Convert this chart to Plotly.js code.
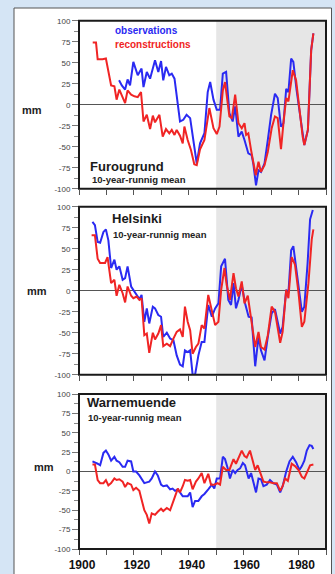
<!DOCTYPE html>
<html><head><meta charset="utf-8">
<script src="https://cdn.plot.ly/plotly-3.0.1.min.js"></script>
<style>html,body{margin:0;padding:0;background:#d5e5f5;}#chart{width:335px;height:574px;}</style>
</head><body><div id="chart"></div>
<script>
// ---- data (years, mm) ----
var furRecYears = [1905.0,1906.2,1906.8,1908.6,1909.8,1910.4,1911.7,1912.9,1913.7,1914.7,1915.9,1916.8,1917.7,1919.0,1920.2,1921.4,1922.6,1923.5,1924.7,1925.9,1926.9,1927.7,1929.3,1930.5,1931.7,1932.9,1933.8,1934.8,1935.6,1936.8,1937.8,1938.4,1939.6,1940.8,1942.0,1942.9,1944.1,1945.7,1947.5,1949.0,1950.2,1951.2,1952.4,1953.2,1954.8,1955.7,1956.9,1958.1,1959.3,1960.3,1960.9,1961.7,1962.7,1963.5,1964.4,1965.4,1966.3,1967.6,1968.8,1970.2,1971.4,1972.4,1973.6,1974.5,1975.5,1976.3,1977.9,1979.1,1980.3,1981.5,1982.1,1983.4,1984.6,1985.4];
var furRec = [74,74,54,54,55,45,23,22,6,18,10,2,17,12,10,9,15,-20,-12,-29,-13,-21,-12,-38,-29,-34,-30,-36,-30,-37,-46,-26,-42,-54,-71,-72,-53,-42,-4,-28,-35,-26,17,27,-14,-16,12,-22,-28,-22,-36,-34,-54,-70,-84,-68,-80,-72,-56,-28,-14,-16,-53,-22,8,4,41,29,-6,-38,-48,-30,65,85];
var furObsYears = [1914.6,1915.6,1916.8,1917.7,1918.6,1919.8,1921.4,1922.8,1923.5,1924.7,1925.9,1926.9,1927.7,1928.9,1929.9,1930.7,1931.7,1932.9,1933.8,1934.8,1936.0,1936.8,1938.0,1939.2,1940.5,1941.7,1942.9,1944.1,1945.7,1946.9,1947.8,1949.0,1950.2,1951.4,1952.4,1953.6,1954.8,1956.0,1956.9,1958.1,1959.3,1960.3,1961.7,1962.9,1963.5,1964.5,1965.4,1966.3,1967.6,1968.8,1970.0,1971.4,1972.4,1973.6,1974.5,1975.5,1976.3,1977.3,1978.1,1979.3,1980.3,1981.5,1982.1,1983.4,1984.6,1985.4];
var furObs = [29,23,18,30,23,51,35,43,21,39,31,43,53,39,52,29,45,35,37,31,2,-20,-18,-12,-16,-42,-70,-46,-34,15,27,6,-6,-6,37,39,-10,-20,-2,-38,-32,-42,-58,-60,-70,-96,-78,-80,-70,-42,-12,13,8,-26,-22,19,15,55,51,17,-6,-38,-48,-30,65,85];

var helRecYears = [1904.6,1905.8,1906.8,1907.7,1909.5,1910.4,1911.7,1912.9,1913.7,1914.7,1915.9,1916.8,1917.7,1919.0,1919.8,1921.0,1922.0,1922.8,1923.8,1924.7,1925.6,1926.9,1927.7,1928.9,1929.9,1930.7,1932.0,1933.2,1934.4,1935.6,1936.8,1937.8,1938.6,1939.6,1940.5,1941.4,1942.6,1943.5,1944.7,1945.7,1947.1,1948.4,1949.6,1950.8,1951.8,1953.0,1953.8,1955.0,1956.3,1957.2,1958.1,1959.3,1960.3,1961.5,1962.9,1964.2,1965.4,1966.3,1967.6,1968.8,1970.2,1971.4,1973.3,1974.2,1975.5,1976.3,1977.5,1978.7,1980.0,1981.2,1982.1,1983.6,1984.8,1985.4];
var helRec = [66,66,38,33,33,40,9,13,-6,7,-3,-14,5,-6,-9,-7,-11,-9,-53,-51,-74,-50,-58,-51,-41,-66,-63,-66,-57,-49,-46,-55,-19,-37,-47,-75,-67,-63,-41,-45,-5,-25,-41,-37,1,27,7,-11,21,3,-7,11,-15,-6,-39,-67,-49,-67,-70,-53,-19,-25,-62,-49,1,-9,40,31,-3,-43,-37,9,61,73];
var helObsYears = [1904.9,1905.8,1906.8,1907.7,1908.9,1909.8,1910.7,1911.7,1912.9,1913.7,1914.7,1915.9,1916.8,1917.7,1919.0,1919.8,1921.0,1922.0,1922.8,1923.8,1924.7,1925.6,1926.9,1927.7,1928.9,1929.9,1930.7,1932.0,1933.2,1934.4,1935.6,1936.8,1937.8,1938.6,1939.6,1940.5,1941.4,1942.3,1943.5,1944.7,1945.7,1947.1,1948.4,1949.6,1950.8,1951.8,1953.2,1954.4,1955.4,1956.3,1957.2,1958.1,1959.3,1960.5,1961.8,1962.9,1964.2,1965.4,1966.3,1967.6,1968.8,1970.2,1971.4,1973.3,1974.2,1975.5,1976.3,1977.3,1978.1,1979.3,1980.6,1981.2,1982.1,1983.3,1984.2,1985.2];
var helObs = [82,78,58,57,70,73,60,27,37,25,29,13,15,29,5,1,-6,-10,-5,-37,-21,-39,-19,-21,-29,-31,-55,-50,-57,-59,-77,-88,-90,-71,-73,-71,-100,-100,-77,-61,-61,-17,-31,-21,-15,29,38,-11,-17,9,-21,-11,7,-15,-31,-32,-90,-55,-71,-83,-55,-27,-22,-51,-43,1,-3,48,53,25,-11,-25,-19,33,85,96];

var warRecYears = [1904.9,1905.8,1906.8,1907.7,1908.9,1909.8,1910.7,1911.7,1912.9,1913.7,1914.7,1915.9,1916.8,1917.7,1919.0,1919.8,1920.8,1922.0,1922.8,1923.8,1924.7,1925.6,1926.5,1927.7,1928.7,1929.9,1930.7,1932.0,1933.2,1934.1,1935.0,1936.0,1936.8,1937.8,1938.6,1939.6,1940.5,1941.4,1942.6,1943.5,1944.7,1945.7,1947.1,1948.1,1949.3,1950.5,1951.4,1952.4,1953.6,1954.8,1956.3,1957.2,1958.1,1959.3,1960.3,1961.1,1962.3,1963.3,1964.2,1965.1,1966.0,1967.2,1968.4,1969.6,1970.8,1972.1,1973.3,1974.2,1975.1,1976.1,1977.5,1978.7,1980.0,1981.2,1982.1,1983.0,1984.2,1985.4];
var warRec = [9,9,-11,-15,-15,-11,-18,-15,-9,-11,-10,-13,-20,-15,-17,-24,-21,-25,-36,-50,-56,-67,-54,-56,-52,-48,-51,-47,-50,-42,-32,-22,-27,-19,-11,-12,-11,-23,-13,-9,-2,-15,-3,-17,-17,-15,-17,6,2,2,16,10,18,27,20,18,27,14,2,8,-2,-13,-14,-14,-15,-15,-25,-19,-9,-12,10,7,2,-7,-9,-2,8,9];
var warObsYears = [1904.9,1905.8,1906.8,1907.7,1908.9,1909.8,1910.7,1911.7,1912.9,1913.7,1914.7,1915.9,1916.8,1917.7,1919.0,1919.8,1920.8,1922.0,1922.8,1923.8,1924.7,1925.6,1926.5,1927.7,1928.7,1929.9,1930.7,1932.0,1933.2,1934.1,1935.0,1936.0,1936.8,1937.8,1938.6,1939.6,1940.5,1941.4,1942.3,1943.5,1944.7,1945.7,1947.1,1948.4,1949.3,1950.2,1951.4,1952.4,1953.2,1954.2,1955.0,1956.0,1956.9,1957.8,1958.7,1959.7,1960.5,1961.8,1962.7,1963.5,1964.5,1965.4,1966.3,1967.2,1968.4,1969.6,1970.8,1972.1,1973.3,1974.2,1975.5,1976.7,1977.9,1979.1,1980.3,1981.2,1982.1,1983.0,1984.0,1984.8,1985.4];
var warObs = [13,12,10,8,24,27,22,14,19,14,12,6,6,14,13,0,0,-5,-9,-15,-14,-13,-9,0,-5,-17,-19,-18,-23,-22,-25,-23,-27,-32,-32,-32,-27,-46,-38,-38,-32,-29,-23,-17,-22,-9,-9,19,16,4,-9,2,-2,2,4,11,8,-9,-2,-15,-27,-9,-10,-19,-17,-11,-15,-17,-27,-19,0,13,19,12,2,7,14,27,34,33,29];

var stationNames = ['Furougrund','Helsinki','Warnemuende'];
var subtitleText = '10-year-runnig mean';
var seriesNames = ['observations','reconstructions'];
var yTickVals = [-100,-75,-50,-25,0,25,50,75,100];
var yTickText = ['-100','-75','-50','-25','0','25','50','75','100'];
var xTickVals = [1900,1910,1920,1930,1940,1950,1960,1970,1980,1990];
var xTickText = ['1900','','1920','','1940','','1960','','1980',''];
var shadeStart = 1950, shadeEnd = 1990;

// ---- layout helpers (pixel -> paper) ----
var W = 335, H = 574, MB = 25, PH = H - MB;
function px(x){ return x / W; }
function py(y){ return (PH - y) / PH; }

var BLUE = '#2a2af2', RED = '#f02424';
var FONT = 'Liberation Sans, Arial, sans-serif';

var panels = [
  {obsX: furObsYears, obs: furObs, recX: furRecYears, rec: furRec, top: 20.7, bot: 188.7},
  {obsX: helObsYears, obs: helObs, recX: helRecYears, rec: helRec, top: 206.7, bot: 374.7},
  {obsX: warObsYears, obs: warObs, recX: warRecYears, rec: warRec, top: 394, bot: 549}
];

var traces = [];
var layout = {
  width: W, height: H,
  margin: {l: 0, r: 0, t: 0, b: MB, pad: 0},
  paper_bgcolor: '#d5e5f5',
  plot_bgcolor: 'white',
  showlegend: false,
  font: {family: FONT, color: '#333'},
  shapes: [
    {type: 'rect', xref: 'paper', yref: 'paper', x0: px(14), x1: px(331.5), y0: py(600), y1: py(8),
     fillcolor: 'white', line: {color: '#555', width: 1}, layer: 'below'}
  ],
  annotations: []
};

panels.forEach(function(p, i){
  var n = i === 0 ? '' : String(i + 1);
  var xa = 'x' + n, ya = 'y' + n;
  traces.push({x: p.obsX, y: p.obs, xaxis: xa, yaxis: ya, type: 'scatter', mode: 'lines',
               name: seriesNames[0], line: {color: BLUE, width: 2}});
  traces.push({x: p.recX, y: p.rec, xaxis: xa, yaxis: ya, type: 'scatter', mode: 'lines',
               name: seriesNames[1], line: {color: RED, width: 2}});
  layout['xaxis' + n] = {
    domain: [px(79), px(326)], range: [1900, 1990], anchor: ya,
    showgrid: false, zeroline: false, showline: false,
    ticks: 'outside', ticklen: 5, tickwidth: 1, tickcolor: '#555',
    tickmode: 'array', tickvals: xTickVals, ticktext: xTickText,
    showticklabels: i === 2, ticklabelshift: 3, ticklabelstandoff: 0,
    tickfont: {family: FONT, size: 12, color: '#111', weight: 'bold'}
  };
  layout['yaxis' + n] = {
    domain: [py(p.bot), py(p.top)], range: [-100, 100], anchor: xa,
    showgrid: false, zeroline: true, zerolinecolor: '#555', zerolinewidth: 1,
    showline: true, linecolor: '#777', linewidth: 1,
    ticks: 'outside', ticklen: 6, tickwidth: 1, tickcolor: '#777',
    tickmode: 'array', tickvals: yTickVals, ticktext: yTickText,
    minor: {dtick: 12.5, ticks: 'outside', ticklen: 4, tickcolor: '#888', showgrid: false},
    tickfont: {family: FONT, size: 8, color: '#444'}
  };
  layout.shapes.push({type: 'rect', xref: xa, yref: ya + ' domain', x0: shadeStart, x1: shadeEnd, y0: 0, y1: 1,
                      fillcolor: '#e6e6e6', line: {width: 0}, layer: 'below'});
  layout.shapes.push({type: 'rect', xref: xa + ' domain', yref: ya + ' domain', x0: 0, x1: 1, y0: 0, y1: 1,
                      fillcolor: 'rgba(0,0,0,0)', line: {color: '#1a1a1a', width: 2}, layer: 'above'});
});

function ann(text, x, y, size, color, bold, xanchor){
  layout.annotations.push({text: text, xref: 'paper', yref: 'paper', x: px(x), y: py(y),
    xanchor: xanchor || 'left', yanchor: 'middle', showarrow: false,
    font: {family: FONT, size: size, color: color, weight: bold ? 'bold' : 'normal'}});
}
// legend-like labels
ann(seriesNames[0], 113, 31, 10, BLUE, true);
ann(seriesNames[1], 113, 44, 10, RED, true);
// station titles
ann(stationNames[0], 88, 166, 13, '#1a1a1a', true);
ann(subtitleText, 90, 179, 9.5, '#222', true);
ann(stationNames[1], 110, 218.5, 13, '#1a1a1a', true);
ann(subtitleText, 111, 234, 9.5, '#222', true);
ann(stationNames[2], 85, 402.5, 13, '#1a1a1a', true);
ann(subtitleText, 86, 417.5, 9.5, '#222', true);
// axis unit labels
ann('mm', 32, 110, 11, '#222', true, 'center');
ann('mm', 36.5, 291, 11, '#222', true, 'center');
ann('mm', 44, 467, 11, '#222', true, 'center');

Plotly.newPlot('chart', traces, layout, {displayModeBar: false, staticPlot: true});
</script></body></html>
